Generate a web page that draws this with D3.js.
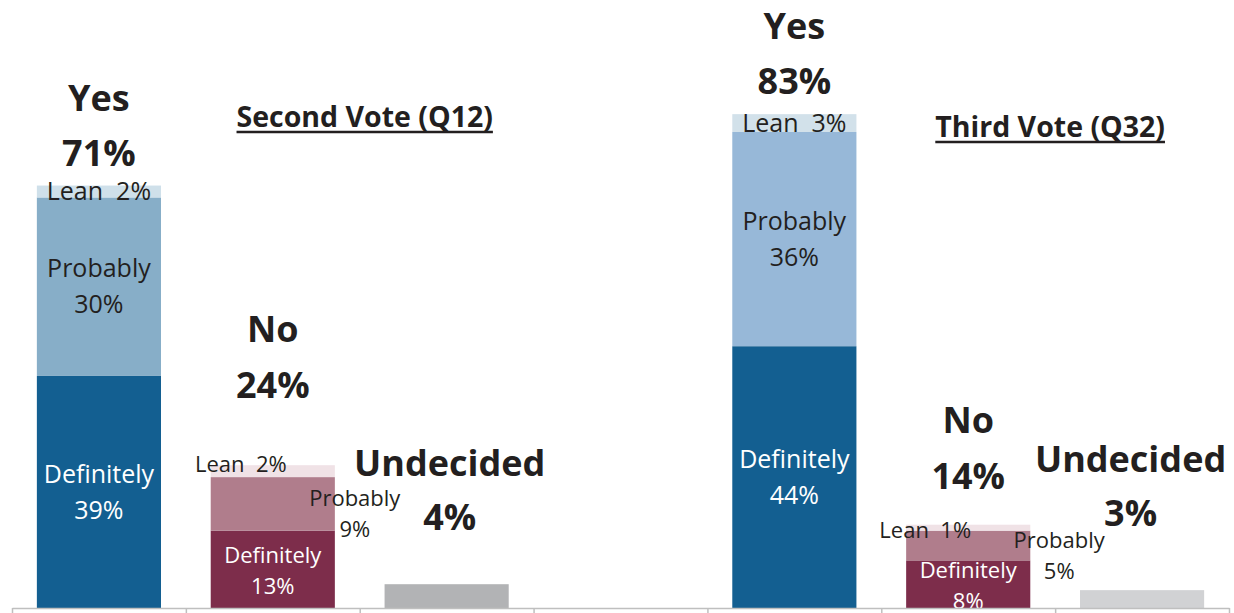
<!DOCTYPE html>
<html>
<head>
<meta charset="utf-8">
<script src="https://cdn.jsdelivr.net/npm/d3@7"></script>
<style>
  html, body { margin: 0; padding: 0; background: #ffffff; }
  svg { display: block; font-family: "Open Sans", "Liberation Sans", sans-serif; }
  text { white-space: pre; }
</style>
</head>
<body>
<svg id="chart" width="1234" height="613"></svg>
<script>
// Vote intention, two survey questions side by side
const bands = ["Q12 Yes", "Q12 No", "Q12 Undecided", "spacer", "Q32 Yes", "Q32 No", "Q32 Undecided"];
const levels = ["Definitely", "Probably", "Lean"];

const q12Yes = [39, 30, 2];
const q12No = [13, 9, 2];
const q12Undecided = 4;
const q12YesTotal = 71;
const q12NoTotal = 24;

const q32Yes = [44, 36, 3];
const q32No = [8, 5, 1];
const q32Undecided = 3;
const q32YesTotal = 83;
const q32NoTotal = 14;

const titles = ["Second Vote (Q12)", "Third Vote (Q32)"];

const W = 1234, H = 613;
const svg = d3.select("#chart");
const ink = "#231f20";

const x = d3.scaleBand().domain(bands).range([12, 1229]).paddingInner(0.286).paddingOuter(0.143);
const y = d3.scaleLinear().domain([0, 100]).range([608, 13]);
const bw = x.bandwidth();
const cx = b => x(b) + bw / 2;

const colors = {
  Q12: { Yes: ["#135f91", "#87aec8", "#cfe0ea"], No: ["#7d2d4b", "#b07d8c", "#f0e2e6"], Undecided: "#b2b3b5" },
  Q32: { Yes: ["#135f91", "#97b8d8", "#d2e1ea"], No: ["#7d2d4b", "#b07d8c", "#f0e2e6"], Undecided: "#d1d2d4" }
};

const gBars = svg.append("g");
const gLabels = svg.append("g");

// stacked bar builder: returns segment extents
function stack(band, values, palette) {
  let acc = 0;
  const segs = values.map((v, i) => {
    const s = { level: levels[i], value: v, y0: acc, y1: acc + v, color: palette[i] };
    acc += v;
    return s;
  });
  gBars.selectAll(null).data(segs).enter().append("rect")
    .attr("x", x(band)).attr("width", bw)
    .attr("y", d => y(d.y1)).attr("height", d => y(d.y0) - y(d.y1))
    .attr("fill", d => d.color);
  return segs;
}

function text(xp, yp, str, size, weight, fill) {
  return gLabels.append("text")
    .attr("x", xp).attr("y", yp)
    .attr("text-anchor", "middle")
    .attr("font-size", size).attr("font-weight", weight || 400)
    .attr("fill", fill || ink)
    .text(str);
}

// two-line label centred on (xp, yc)
function twoLine(xp, yc, l1, l2, size, gap, fill) {
  const base = size * 0.35;
  text(xp, yc - gap / 2 + base, l1, size, 400, fill);
  text(xp, yc + gap / 2 + base, l2, size, 400, fill);
}

const mid = s => (y(s.y0) + y(s.y1)) / 2;

function drawPanel(key, yesVals, noVals, undVal, yesTotal, noTotal, opts) {
  const yesB = key + " Yes", noB = key + " No", undB = key + " Undecided";
  const pal = colors[key];

  // Yes
  const ys = stack(yesB, yesVals, pal.Yes);
  twoLine(cx(yesB), mid(ys[0]), "Definitely", ys[0].value + "%", 25, 36, "#ffffff");
  twoLine(cx(yesB), mid(ys[1]), "Probably", ys[1].value + "%", 25, 36, ink);
  text(cx(yesB), mid(ys[2]) + 25 * 0.35, "Lean  " + ys[2].value + "%", 25, 400, ink);
  const yesTop = y(d3.sum(yesVals));
  text(cx(yesB), yesTop - 75, "Yes", 36, 700);
  text(cx(yesB), yesTop - 20, yesTotal + "%", 36, 700);

  // No
  const ns = stack(noB, noVals, pal.No);
  const o = opts.no;
  twoLine(cx(noB), mid(ns[0]) + o.defDy, "Definitely", ns[0].value + "%", 22, 31, "#ffffff");
  twoLine(cx(noB) + o.probDx, mid(ns[1]) + o.probDy, "Probably", ns[1].value + "%", 22, 31, ink);
  text(cx(noB) + o.leanDx, mid(ns[2]) + o.leanDy + 22 * 0.35, "Lean  " + ns[2].value + "%", 22, 400, ink);
  const noTop = y(d3.sum(noVals));
  text(cx(noB), noTop - o.head, "No", 36, 700);
  text(cx(noB), noTop - o.head + 56, noTotal + "%", 36, 700);

  // Undecided
  gBars.append("rect")
    .attr("x", x(undB)).attr("width", bw)
    .attr("y", y(undVal)).attr("height", y(0) - y(undVal))
    .attr("fill", pal.Undecided);
  const u = opts.und;
  text(cx(undB) + u.dx, y(undVal) - u.head, "Undecided", 36, 700);
  text(cx(undB) + u.dx, y(undVal) - u.head + 54, undVal + "%", 36, 700);

  // underlined panel title
  const t = text(x(undB) - x.step() * x.paddingInner() / 2 + opts.title.dx, opts.title.y, opts.title.label, 28.5, 700);
  const len = t.node().getComputedTextLength();
  const tx = +t.attr("x");
  gLabels.append("line")
    .attr("x1", tx - len / 2).attr("x2", tx + len / 2)
    .attr("y1", opts.title.y + 5).attr("y2", opts.title.y + 5)
    .attr("stroke", ink).attr("stroke-width", 2.6);
}

drawPanel("Q12", q12Yes, q12No, q12Undecided, q12YesTotal, q12NoTotal, {
  no: { defDy: 1.5, probDx: 82, probDy: 10, leanDx: -32, leanDy: -7, head: 123 },
  und: { dx: 3, head: 108 },
  title: { dx: 5, y: 127, label: titles[0] }
});

drawPanel("Q32", q32Yes, q32No, q32Undecided, q32YesTotal, q32NoTotal, {
  no: { defDy: 1.5, probDx: 91, probDy: 10.5, leanDx: -43, leanDy: 2.5, head: 92 },
  und: { dx: -11.5, head: 118 },
  title: { dx: -5, y: 137, label: titles[1] }
});

// baseline axis with category boundary ticks
const xEdge = d3.scaleLinear().domain([0, bands.length]).range([12, 1229]);
const axis = svg.append("g")
  .attr("transform", `translate(0,${y(0)})`)
  .call(d3.axisBottom(xEdge).tickValues(d3.range(bands.length + 1)).tickFormat("").tickSize(6).tickSizeOuter(0));
axis.select(".domain").attr("stroke", "#bfbfbf").attr("stroke-width", 1.5);
axis.selectAll(".tick line").attr("stroke", "#bfbfbf").attr("stroke-width", 1.5);
</script>
</body>
</html>
